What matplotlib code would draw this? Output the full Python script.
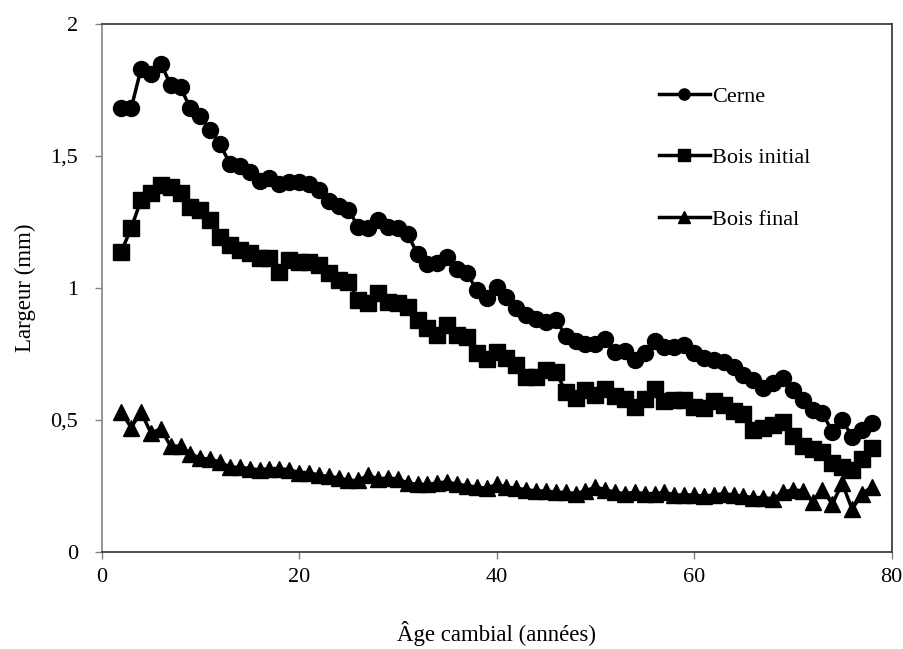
import matplotlib.pyplot as plt
import numpy as np

# cambial age (years)
age = np.arange(2, 79)

cerne = [1.68, 1.68, 1.83, 1.81, 1.85, 1.77, 1.76, 1.68, 1.65, 1.60,
         1.545, 1.47, 1.46, 1.44, 1.405, 1.415, 1.395, 1.40, 1.40, 1.395,
         1.37, 1.33, 1.31, 1.295, 1.232, 1.228, 1.257, 1.232, 1.228, 1.203,
         1.128, 1.09, 1.093, 1.118, 1.07, 1.055, 0.992, 0.96, 1.002, 0.965,
         0.925, 0.898, 0.882, 0.872, 0.878, 0.818, 0.799, 0.786, 0.787, 0.805,
         0.758, 0.76, 0.727, 0.752, 0.799, 0.777, 0.777, 0.785, 0.752, 0.733,
         0.727, 0.72, 0.701, 0.67, 0.651, 0.619, 0.638, 0.657, 0.613, 0.575,
         0.537, 0.524, 0.455, 0.499, 0.436, 0.461, 0.487]

bois_initial = [1.137, 1.226, 1.333, 1.358, 1.39, 1.383, 1.358, 1.308, 1.295, 1.257,
                1.194, 1.162, 1.143, 1.131, 1.112, 1.112, 1.061, 1.106, 1.099, 1.099,
                1.087, 1.055, 1.03, 1.023, 0.954, 0.941, 0.979, 0.947, 0.941, 0.929,
                0.878, 0.847, 0.821, 0.859, 0.821, 0.815, 0.752, 0.73, 0.758, 0.733,
                0.708, 0.663, 0.663, 0.689, 0.682, 0.606, 0.581, 0.613, 0.594, 0.615,
                0.59, 0.578, 0.55, 0.578, 0.616, 0.572, 0.575, 0.575, 0.55, 0.545,
                0.57, 0.556, 0.535, 0.52, 0.46, 0.47, 0.48, 0.49, 0.44, 0.40,
                0.388, 0.379, 0.335, 0.322, 0.31, 0.35, 0.392]

bois_final = [0.53, 0.47, 0.53, 0.45, 0.465, 0.40, 0.40, 0.37, 0.355, 0.35,
              0.34, 0.32, 0.32, 0.315, 0.31, 0.315, 0.315, 0.31, 0.30, 0.30,
              0.29, 0.285, 0.28, 0.27, 0.27, 0.29, 0.275, 0.28, 0.275, 0.26,
              0.255, 0.255, 0.26, 0.265, 0.255, 0.25, 0.245, 0.24, 0.255, 0.245,
              0.24, 0.235, 0.23, 0.23, 0.225, 0.225, 0.22, 0.23, 0.245, 0.235,
              0.225, 0.22, 0.225, 0.22, 0.22, 0.225, 0.215, 0.215, 0.215, 0.21,
              0.215, 0.22, 0.215, 0.21, 0.205, 0.205, 0.20, 0.225, 0.235, 0.23,
              0.19, 0.235, 0.18, 0.26, 0.16, 0.22, 0.245]

xticks = [0, 20, 40, 60, 80]
yticks = [0, 0.5, 1, 1.5, 2]
ytick_labels = ['0', '0,5', '1', '1,5', '2']

plt.rcParams['font.family'] = ['Liberation Serif', 'DejaVu Serif']

fig = plt.figure(figsize=(9.04, 6.49), dpi=100)
ax = fig.add_axes([0.1123, 0.150, 0.874, 0.813])

ax.plot(age, cerne, '-o', color='black', lw=2.5, ms=11.5, label='Cerne')
ax.plot(age, bois_initial, '-s', color='black', lw=2.5, ms=11.5, label='Bois initial')
ax.plot(age, bois_final, '-^', color='black', lw=2.5, ms=11.5, label='Bois final')

ax.set_xlim(0, 80)
ax.set_ylim(0, 2)
ax.set_xticks(xticks)
ax.set_yticks(yticks)
ax.set_yticklabels(ytick_labels)
ax.tick_params(labelsize=16, direction='out', length=5, width=1, color='#808080')
ax.tick_params(axis='y', pad=12)
ax.tick_params(axis='x', pad=7)

for side in ['top', 'right', 'bottom']:
    ax.spines[side].set_color('#404040')
    ax.spines[side].set_linewidth(1.3)
ax.spines['left'].set_color('#8c8c8c')
ax.spines['left'].set_linewidth(1.3)

ax.set_xlabel('Âge cambial (années)', fontsize=16.5, labelpad=24)
ax.set_ylabel('Largeur (mm)', fontsize=16.5, labelpad=10)

ax.legend(loc='upper left', bbox_to_anchor=(0.68, 0.92), frameon=False, fontsize=16,
          handlelength=2.3, handletextpad=0.1, labelspacing=1.84, markerscale=0.7)

fig.savefig('out.png', dpi=100)
